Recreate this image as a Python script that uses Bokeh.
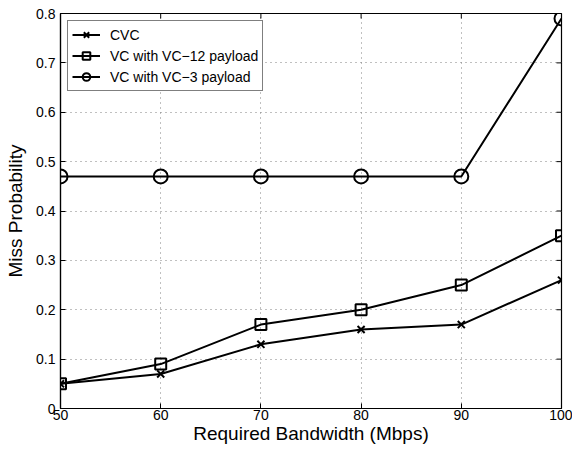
from bokeh.plotting import figure
from bokeh.models import Legend, LegendItem, FixedTicker, Range1d
from bokeh.embed import file_html
from bokeh.resources import INLINE

bandwidth = [50, 60, 70, 80, 90, 100]
cvc = [0.05, 0.07, 0.13, 0.16, 0.17, 0.26]
vc12 = [0.05, 0.09, 0.17, 0.20, 0.25, 0.35]
vc3 = [0.47, 0.47, 0.47, 0.47, 0.47, 0.79]
x_ticks = [50, 60, 70, 80, 90, 100]
y_ticks = [0, 0.1, 0.2, 0.3, 0.4, 0.5, 0.6, 0.7, 0.8]

FONT = "Liberation Sans"
X0, X1, Y0, Y1 = 50, 100, 0, 0.8

p = figure(width=572, height=452, output_backend="svg", toolbar_location=None,
           x_range=Range1d(X0, X1), y_range=Range1d(Y0, Y1),
           min_border_left=60, min_border_right=11, min_border_top=13, min_border_bottom=44)
p.background_fill_color = "white"
p.border_fill_color = "white"
p.outline_line_color = "black"
p.outline_line_width = 1.2

for ax in (p.xaxis[0], p.yaxis[0]):
    ax.major_tick_in = 5
    ax.major_tick_out = 0
    ax.minor_tick_in = 0
    ax.minor_tick_out = 0
    ax.axis_line_color = "black"
    ax.axis_line_width = 1.2
    ax.major_tick_line_color = "black"
    ax.major_label_text_font = FONT
    ax.major_label_text_font_size = "14px"
    ax.major_label_text_color = "black"
    ax.axis_label_text_font = FONT
    ax.axis_label_text_font_size = "19px"
    ax.axis_label_text_font_style = "normal"
    ax.axis_label_text_color = "black"

p.xaxis.ticker = FixedTicker(ticks=x_ticks)
p.yaxis.ticker = FixedTicker(ticks=y_ticks)
p.yaxis.major_label_overrides = {0: "0"}
p.xaxis.axis_label = "Required Bandwidth (Mbps)"
p.yaxis.axis_label = "Miss Probability"
p.xaxis.major_label_standoff = 1
p.xaxis.axis_label_standoff = 0
p.yaxis.major_label_standoff = 5
p.yaxis.axis_label_standoff = 7

# mirrored inward ticks on the top and right edges of the box
n_x, n_y = len(x_ticks), len(y_ticks)
tick_dx = (X1 - X0) * 5 / 500
tick_dy = (Y1 - Y0) * 5 / 395
p.segment(x0=x_ticks, x1=x_ticks, y0=[Y1] * n_x, y1=[Y1 - tick_dy] * n_x,
          line_color="black", line_width=1)
p.segment(x0=[X1] * n_y, x1=[X1 - tick_dx] * n_y, y0=y_ticks, y1=y_ticks,
          line_color="black", line_width=1)

p.xgrid.ticker = FixedTicker(ticks=x_ticks)
p.ygrid.ticker = FixedTicker(ticks=y_ticks)
p.grid.grid_line_color = "#808080"
p.grid.grid_line_dash = "1 4"
p.grid.grid_line_width = 1

lw = 2
l1 = p.line(bandwidth, cvc, line_color="black", line_width=lw)
s1 = p.scatter(bandwidth, cvc, marker="x", size=10, line_color="black", line_width=2)
l2 = p.line(bandwidth, vc12, line_color="black", line_width=lw)
s2 = p.scatter(bandwidth, vc12, marker="square", size=11, line_color="black",
               fill_color=None, line_width=2)
l3 = p.line(bandwidth, vc3, line_color="black", line_width=lw)
s3 = p.scatter(bandwidth, vc3, marker="circle", size=14, line_color="black",
               fill_color=None, line_width=2)

legend = Legend(items=[
    LegendItem(label="CVC", renderers=[l1, s1]),
    LegendItem(label="VC with VC\u221212 payload", renderers=[l2, s2]),
    LegendItem(label="VC with VC\u22123 payload", renderers=[l3, s3]),
], location="top_left")
legend.border_line_color = "black"
legend.border_line_width = 1.2
legend.background_fill_color = "white"
legend.background_fill_alpha = 1
legend.label_text_font = FONT
legend.label_text_font_size = "14px"
legend.label_text_color = "black"
legend.glyph_width = 28
legend.glyph_height = 19
legend.label_height = 19
legend.spacing = 2
legend.padding = 4
legend.margin = 7
legend.label_standoff = 10
p.add_layout(legend)

open("out.html", "w").write(file_html(p, INLINE))
